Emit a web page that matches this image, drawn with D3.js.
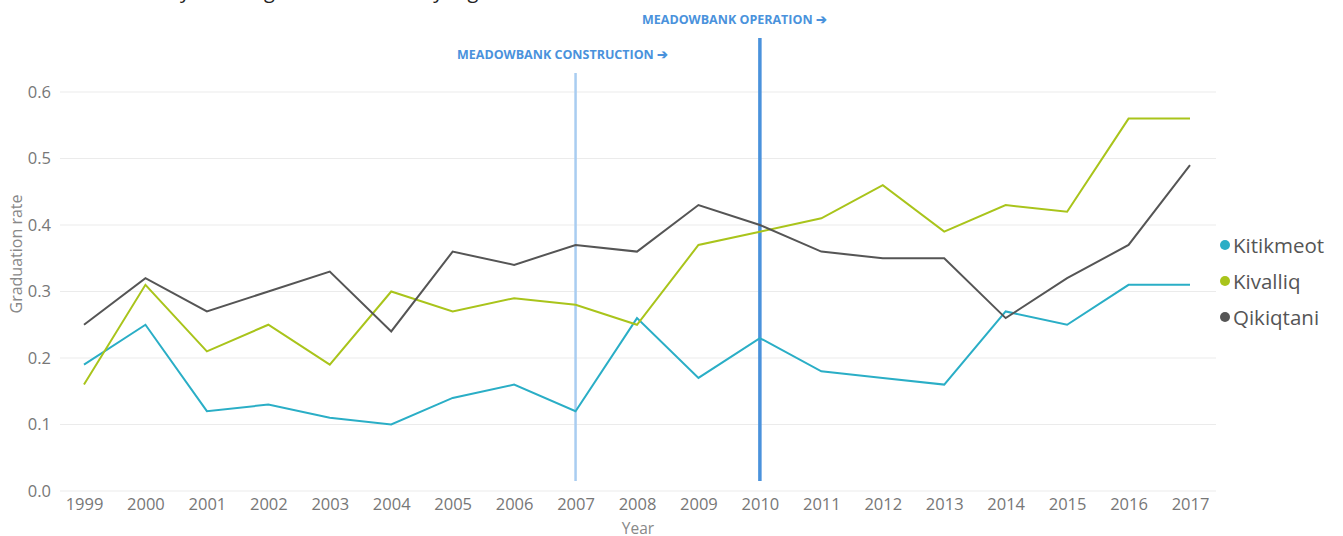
<!DOCTYPE html>
<html>
<head>
<meta charset="utf-8">
<script src="https://cdnjs.cloudflare.com/ajax/libs/d3/7.8.5/d3.min.js"></script>
<style>
  html, body { margin: 0; padding: 0; background: #fff; }
  svg { display: block; font-family: "Open Sans", "Noto Sans", sans-serif; }
</style>
</head>
<body>
<svg id="chart" width="1343" height="536"></svg>
<script>
const years = [1999,2000,2001,2002,2003,2004,2005,2006,2007,2008,2009,2010,2011,2012,2013,2014,2015,2016,2017];
const kitikmeot = [0.19,0.25,0.12,0.13,0.11,0.10,0.14,0.16,0.12,0.26,0.17,0.23,0.18,0.17,0.16,0.27,0.25,0.31,0.31];
const kivalliq  = [0.16,0.31,0.21,0.25,0.19,0.30,0.27,0.29,0.28,0.25,0.37,0.39,0.41,0.46,0.39,0.43,0.42,0.56,0.56];
const qikiqtani = [0.25,0.32,0.27,0.30,0.33,0.24,0.36,0.34,0.37,0.36,0.43,0.40,0.36,0.35,0.35,0.26,0.32,0.37,0.49];
const seriesNames = ["Kitikmeot","Kivalliq","Qikiqtani"];
const seriesColors = ["#2aaec6","#a9c41b","#555555"];
const yTicks = [0,0.1,0.2,0.3,0.4,0.5,0.6];
const events = [
  {year: 2007, label: "MEADOWBANK CONSTRUCTION \u2794"},
  {year: 2010, label: "MEADOWBANK OPERATION \u2794"}
];

const svg = d3.select("#chart");
const x = d3.scalePoint().domain(years).range([84, 1190]);
const y = d3.scaleLinear().domain([0, 0.6]).range([491, 92]);

// clipped title (only descenders visible, as in the reference)
const title = svg.append("g").attr("fill", "#222").attr("font-size", 20);
[["Secondary", 190, "end"], ["school", 197, "start"], ["graduation", 264, "start"],
 ["rates", 367, "start"], ["by", 421, "start"], ["region", 448, "start"]].forEach(([w, px, a]) => {
  title.append("text").attr("x", px).attr("y", -2).attr("text-anchor", a).text(w);
});

// gridlines
svg.append("g").selectAll("line").data(yTicks).join("line")
  .attr("x1", 60).attr("x2", 1216)
  .attr("y1", d => y(d)).attr("y2", d => y(d))
  .attr("stroke", "#ebebeb").attr("stroke-width", 1);

// y axis
const yAxis = svg.append("g").attr("transform", "translate(51,0)")
  .call(d3.axisLeft(y).tickValues(yTicks).tickFormat(d3.format(".1f")).tickSize(0).tickPadding(0));
yAxis.select(".domain").remove();
yAxis.selectAll("text").attr("font-size", 16.5).attr("fill", "#777").attr("font-family", "Open Sans, sans-serif");

// x axis
const xAxis = svg.append("g").attr("transform", "translate(0,498)")
  .call(d3.axisBottom(x).tickSize(0).tickPadding(0));
xAxis.select(".domain").remove();
xAxis.selectAll("text").attr("font-size", 16.5).attr("fill", "#777").attr("dy", "0.71em").attr("font-family", "Open Sans, sans-serif");

// axis titles
svg.append("text").attr("transform", "translate(22,254) rotate(-90)")
  .attr("text-anchor", "middle").attr("font-size", 16).attr("fill", "#888").text("Graduation rate");
svg.append("text").attr("x", 638).attr("y", 534).attr("text-anchor", "middle")
  .attr("font-size", 15.5).attr("fill", "#888").text("Year");

// event lines
svg.append("line").attr("x1", x(events[0].year)).attr("x2", x(events[0].year)).attr("y1", 73).attr("y2", 481)
  .attr("stroke", "#a9cdf1").attr("stroke-width", 2.5);
svg.append("line").attr("x1", x(events[1].year)).attr("x2", x(events[1].year)).attr("y1", 38).attr("y2", 481)
  .attr("stroke", "#4a92dc").attr("stroke-width", 3.5);
svg.append("text").attr("x", 457).attr("y", 59).attr("font-size", 12.5).attr("font-weight", "bold")
  .attr("fill", "#4a92dc").text(events[0].label);
svg.append("text").attr("x", 642).attr("y", 24).attr("font-size", 12.5).attr("font-weight", "bold")
  .attr("fill", "#4a92dc").text(events[1].label);

// lines
const line = d3.line().x((d, i) => x(years[i])).y(d => y(d));
[kitikmeot, kivalliq, qikiqtani].forEach((vals, k) => {
  svg.append("path").datum(vals).attr("d", line)
    .attr("fill", "none").attr("stroke", seriesColors[k]).attr("stroke-width", 2)
    .attr("stroke-linejoin", "miter");
});

// legend
const legend = svg.append("g");
seriesNames.forEach((n, i) => {
  const cy = 245 + i * 36;
  legend.append("circle").attr("cx", 1225).attr("cy", cy).attr("r", 5).attr("fill", seriesColors[i]);
  legend.append("text").attr("x", 1233).attr("y", cy + 8).attr("font-size", 20.5).attr("fill", "#555").text(n);
});
</script>
</body>
</html>
